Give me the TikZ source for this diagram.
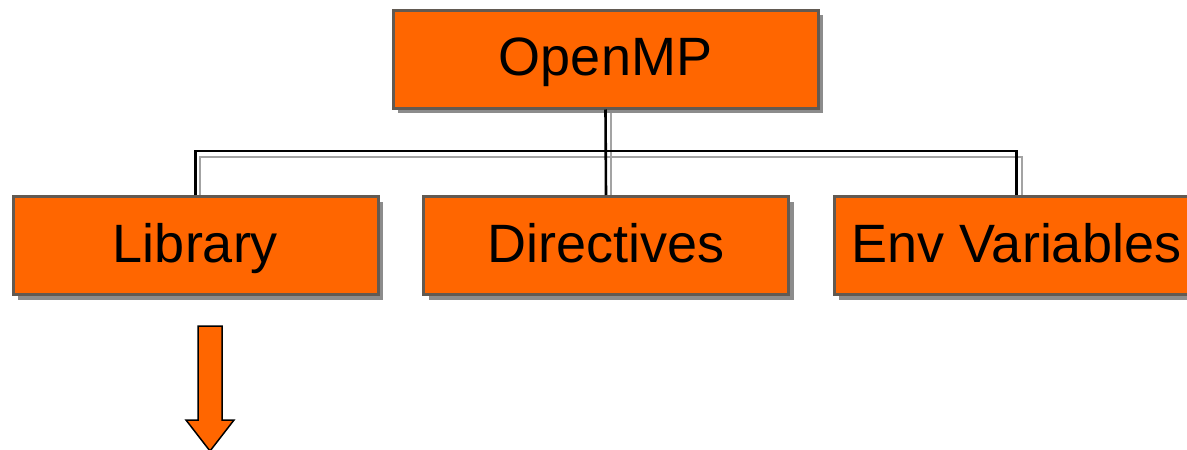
\documentclass[tikz,border=0pt]{standalone}
\usepackage{fontspec}
\setmainfont{Liberation Sans}
\usetikzlibrary{shadows}
\definecolor{boxfill}{RGB}{255,102,0}
\definecolor{boxline}{RGB}{98,90,82}
\definecolor{shadowgray}{RGB}{140,140,140}
\tikzset{
  box/.style={draw=boxline, fill=boxfill, line width=3pt, inner sep=0pt,
    minimum width=365pt, minimum height=98pt,
    text height=39pt, text depth=6pt,
    font=\fontsize{54}{62}\selectfont, text=black,
    drop shadow={shadow xshift=5pt, shadow yshift=-5pt, fill=shadowgray, opacity=1}},
  link/.style={draw=black, line width=2.6pt},
  linkshadow/.style={draw=shadowgray!80, line width=2.4pt, xshift=5pt, yshift=-5pt},
  arrowshape/.style={draw=black, fill=boxfill, line width=1.5pt, line join=miter}
}
\begin{document}
\begin{tikzpicture}[x=1pt, y=-1pt]
  \useasboundingbox (0,0) rectangle (1187,450);
  \clip (0,0) rectangle (1187,450);

  % connector shadows
  \path[linkshadow] (606,108) -- (606,196);
  \path[linkshadow] (195,196) -- (195,152) -- (1017,152) -- (1017,196);

  % boxes
  \node[box, minimum width=425pt] (top) at (605.5,59) {OpenMP};
  \node[box] (lib) at (195.5,245.5) {Library};
  \node[box] (dir) at (606,245.5) {Directives};
  \node[box] (env) at (1016.5,245.5) {Env Variables};

  % connectors
  \draw[link] (top.south) -- (dir.north);
  \draw[link] (lib.north) -- ++(0,-44) -| (env.north);

  % down arrow below Library
  \draw[arrowshape] (198,326) -- (222,326) -- (222,420) -- (234,420)
    -- (210,451) -- (186,420) -- (198,420) -- cycle;
\end{tikzpicture}
\end{document}
